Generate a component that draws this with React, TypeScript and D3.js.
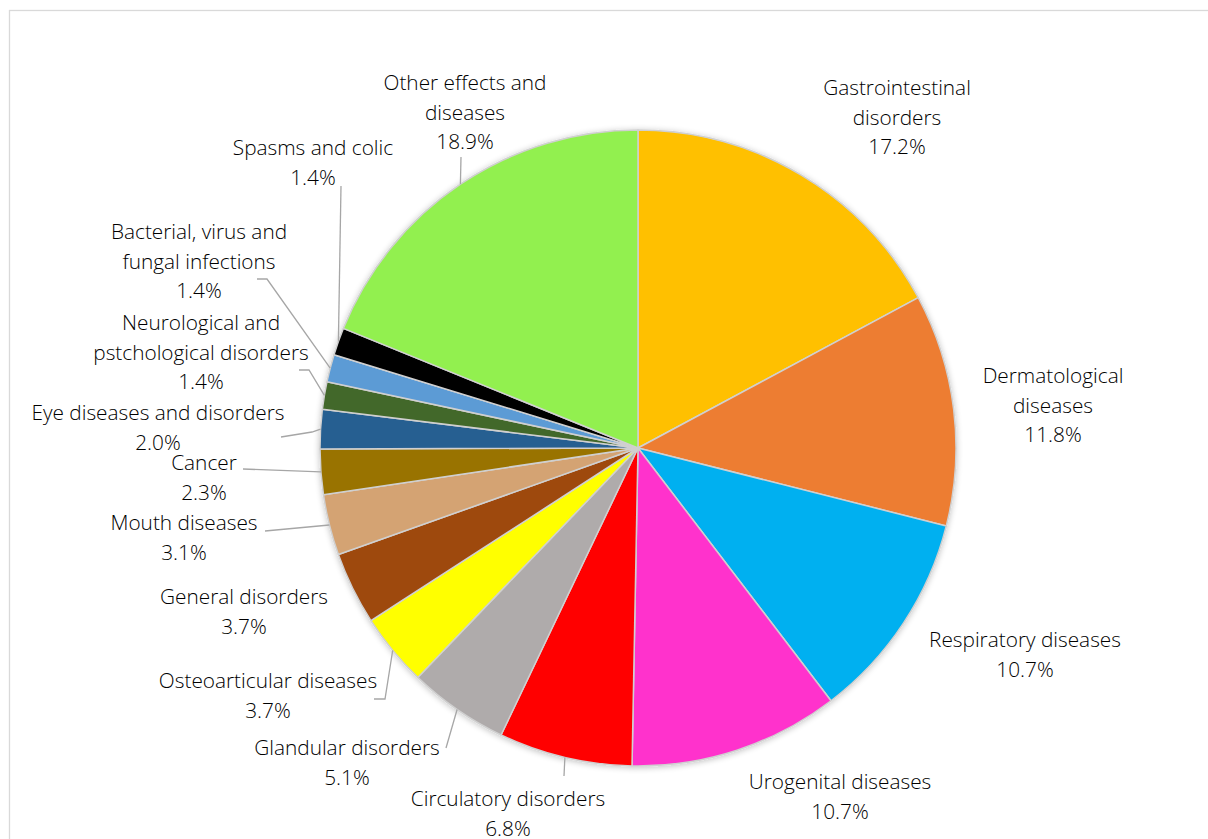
import React from "react";
import * as d3 from "d3";

const categories = [
  "Gastrointestinal disorders",
  "Dermatological diseases",
  "Respiratory diseases",
  "Urogenital diseases",
  "Circulatory disorders",
  "Glandular disorders",
  "Osteoarticular diseases",
  "General disorders",
  "Mouth diseases",
  "Cancer",
  "Eye diseases and disorders",
  "Neurological and pstchological disorders",
  "Bacterial, virus and fungal infections",
  "Spasms and colic",
  "Other effects and diseases",
];
const values = [17.2, 11.8, 10.7, 10.7, 6.8, 5.1, 3.7, 3.7, 3.1, 2.3, 2.0, 1.4, 1.4, 1.4, 18.9];
const percentLabels = ["17.2%", "11.8%", "10.7%", "10.7%", "6.8%", "5.1%", "3.7%", "3.7%", "3.1%", "2.3%", "2.0%", "1.4%", "1.4%", "1.4%", "18.9%"];
const colors = [
  "#FFC000", "#ED7D31", "#00B0F0", "#FF33CC", "#FF0000", "#AFABAB", "#FFFF00",
  "#9E480E", "#D4A373", "#997300", "#255E91", "#43682B", "#5B9BD5", "#000000", "#92F050",
];
const labelLines = [
  ["Gastrointestinal", "disorders"],
  ["Dermatological", "diseases"],
  ["Respiratory diseases"],
  ["Urogenital diseases"],
  ["Circulatory disorders"],
  ["Glandular disorders"],
  ["Osteoarticular diseases"],
  ["General disorders"],
  ["Mouth diseases"],
  ["Cancer"],
  ["Eye diseases and disorders"],
  ["Neurological and", "pstchological disorders"],
  ["Bacterial, virus and", "fungal infections"],
  ["Spasms and colic"],
  ["Other effects and", "diseases"],
];
// layout: label center x, first line center y
const labelPos: [number, number][] = [
  [897, 88], [1053, 376], [1025, 640], [840, 782], [508, 799], [347, 748], [268, 681],
  [244, 597], [184, 523], [204, 463], [158, 413], [201, 323], [199, 232], [313, 148], [465, 83],
];
// layout: leader line start points (from label side), null = no leader
const leaderStart: ([number, number][] | null)[] = [
  null, null, null, null,
  [[564, 776]],
  [[446, 748]],
  [[374, 699], [385, 699]],
  null,
  [[265, 531]],
  [[243, 469]],
  [[281, 437], [312, 432]],
  [[299, 370], [309, 370]],
  [[257, 279], [267, 279]],
  [[341, 186]],
  [[461, 157]],
];

const W = 1208, H = 839;
const cx = 638, cy = 448, R = 318;
const LH = 29.3;

export default function App() {
  const pie = d3.pie<number>().sort(null).value((d) => d).startAngle(0).endAngle(2 * Math.PI);
  const arcs = pie(values);
  const arc = d3.arc<d3.PieArcDatum<number>>().innerRadius(0).outerRadius(R);
  const edge = (a: d3.PieArcDatum<number>): [number, number] => {
    const m = (a.startAngle + a.endAngle) / 2;
    return [cx + R * Math.sin(m), cy - R * Math.cos(m)];
  };
  return (
    <svg width={W} height={H} style={{ position: "absolute", left: 0, top: 0, background: "#fff" }}
      fontFamily="'Open Sans', Lato, sans-serif">
      <defs>
        <filter id="sh" x="-10%" y="-10%" width="120%" height="120%">
          <feGaussianBlur in="SourceAlpha" stdDeviation="3" />
          <feOffset dx="0" dy="1" result="b" />
          <feComponentTransfer><feFuncA type="linear" slope="0.25" /></feComponentTransfer>
          <feMerge><feMergeNode /><feMergeNode in="SourceGraphic" /></feMerge>
        </filter>
      </defs>
      <rect x={9.5} y={10.5} width={1300} height={1000} fill="#fff" stroke="#d9d9d9" strokeWidth={1.3} />
      <g transform={`translate(${cx},${cy})`} filter="url(#sh)">
        {arcs.map((a, i) => (
          <path key={i} d={arc(a) || ""} fill={colors[i]} stroke="#d0d0d0" strokeWidth={1.5} strokeLinejoin="round">
            <title>{categories[i]}</title>
          </path>
        ))}
      </g>
      {arcs.map((a, i) => {
        const ls = leaderStart[i];
        if (!ls) return null;
        const pts = [...ls, edge(a)];
        return <path key={"l" + i} d={d3.line()(pts) || ""} fill="none" stroke="#a6a6a6" strokeWidth={1.3} />;
      })}
      {arcs.map((a, i) => {
        const [x, y] = labelPos[i];
        const lines = [...labelLines[i], percentLabels[i]];
        return (
          <text key={"t" + i} x={x} y={y} textAnchor="middle" fontSize={20.8} fontWeight={300} fill="#000">
            {lines.map((s, j) => (
              <tspan key={j} x={x} y={y + j * LH} dy="0.35em">{s}</tspan>
            ))}
          </text>
        );
      })}
    </svg>
  );
}
